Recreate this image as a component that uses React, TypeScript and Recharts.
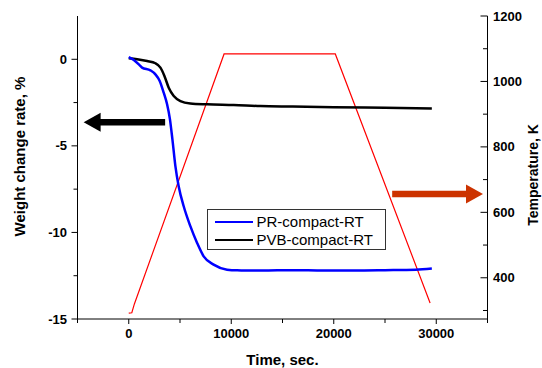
import React from 'react';
import { ComposedChart, Line, XAxis, YAxis, Legend, ReferenceLine } from 'recharts';

const FONT = 'Liberation Sans, Arial, Helvetica, sans-serif';

// PR-compact-RT weight change (%) vs time (s)
const prTime = [0, 490, 1070, 1300, 2115, 2600, 3020, 3410, 3740, 4020, 4260, 4550, 4870, 5360, 6010, 6670, 7310, 8280, 9590, 10570, 13000, 16000, 19000, 22000, 25000, 28000, 29570];
const prWeight = [0.12, -0.04, -0.35, -0.48, -0.64, -0.87, -1.25, -1.93, -2.6, -3.47, -4.63, -6.17, -7.33, -8.49, -9.64, -10.61, -11.38, -11.86, -12.15, -12.19, -12.2, -12.18, -12.2, -12.2, -12.18, -12.15, -12.08];

// PVB-compact-RT weight change (%) vs time (s)
const pvbTime = [0, 820, 1790, 2600, 3090, 3480, 3900, 4390, 5040, 6010, 7640, 10240, 12840, 16000, 20000, 25000, 29570];
const pvbWeight = [0.06, 0, -0.1, -0.23, -0.48, -0.96, -1.64, -2.12, -2.41, -2.55, -2.6, -2.64, -2.7, -2.73, -2.77, -2.8, -2.84];

// Temperature (K) vs time (s)
const tempTime = [0, 300, 550, 9300, 20150, 29400];
const tempK = [292, 293, 320, 1084, 1084, 323];

const seriesNames = ['PR-compact-RT', 'PVB-compact-RT'];
const seriesColors = ['#0000ff', '#000000'];

const xTicks = [-5000, 0, 5000, 10000, 15000, 20000, 25000, 30000, 35000];
const xLabelTicks = [0, 10000, 20000, 30000];
const leftTicks = [-15, -12.5, -10, -7.5, -5, -2.5, 0];
const leftLabelTicks = [-15, -10, -5, 0];
const rightTicks = [300, 400, 500, 600, 700, 800, 900, 1000, 1100, 1200];
const rightLabelTicks = [400, 600, 800, 1000, 1200];

const xTitle = 'Time, sec.';
const leftTitle = 'Weight change rate, %';
const rightTitle = 'Temperature, K';

// arrow annotations (data coordinates)
const weightArrow = [{ x: 3550, y: -3.64 }, { x: -4400, y: -3.64 }];
const tempArrow = [{ x: 25700, y: 656 }, { x: 34560, y: 656 }];

const prData = prTime.map((t, i) => ({ t, v: prWeight[i] }));
const pvbData = pvbTime.map((t, i) => ({ t, v: pvbWeight[i] }));
const tempData = tempTime.map((t, i) => ({ t, v: tempK[i] }));

const BottomTick = (props: any) => {
  const { x, y, payload } = props;
  const v = payload.value;
  const major = xLabelTicks.includes(v);
  return (
    <g>
      <line x1={x} x2={x} y1={y} y2={y + (major ? 5 : 4)} stroke="#000" strokeWidth={1} />
      {major && (
        <text x={x} y={y + 19} textAnchor="middle" fontSize={13} fontWeight="bold" fontFamily={FONT} fill="#000">
          {v}
        </text>
      )}
    </g>
  );
};

const TopTick = (props: any) => {
  const { x, y, payload } = props;
  const major = xLabelTicks.includes(payload.value);
  return <line x1={x} x2={x} y1={y} y2={y + (major ? 6 : 4)} stroke="#000" strokeWidth={1} />;
};

const LeftTick = (props: any) => {
  const { x, y, payload } = props;
  const v = payload.value;
  const major = leftLabelTicks.includes(v);
  return (
    <g>
      <line x1={x} x2={x - (major ? 6 : 4)} y1={y} y2={y} stroke="#000" strokeWidth={1} />
      {major && (
        <text x={x - 10.5} y={y + 4.6} textAnchor="end" fontSize={13} fontWeight="bold" fontFamily={FONT} fill="#000">
          {v}
        </text>
      )}
    </g>
  );
};

const RightTick = (props: any) => {
  const { x, y, payload } = props;
  const v = payload.value;
  const major = rightLabelTicks.includes(v);
  return (
    <g>
      <line x1={x} x2={x - (major ? 7 : 4.5)} y1={y} y2={y} stroke="#000" strokeWidth={1} />
      {major && (
        <text x={x + 5.5} y={y + 4.6} textAnchor="start" fontSize={13} fontWeight="bold" fontFamily={FONT} fill="#000">
          {v}
        </text>
      )}
    </g>
  );
};

const XTitle = (props: any) => {
  const vb = props.viewBox;
  return (
    <text x={vb.x + vb.width / 2} y={vb.y + 46} textAnchor="middle" fontSize={15} fontWeight="bold" fontFamily={FONT} fill="#000">
      {xTitle}
    </text>
  );
};

const LeftTitle = (props: any) => {
  const vb = props.viewBox;
  const cx = vb.x + 24.5;
  const cy = vb.y + vb.height / 2 - 11;
  return (
    <text x={0} y={0} transform={`translate(${cx},${cy}) rotate(-90)`} textAnchor="middle" fontSize={15} fontWeight="bold" fontFamily={FONT} fill="#000">
      {leftTitle}
    </text>
  );
};

const RightTitle = (props: any) => {
  const vb = props.viewBox;
  const cx = vb.x + 50.5;
  const cy = vb.y + vb.height / 2 + 7.5;
  return (
    <text x={0} y={0} transform={`translate(${cx},${cy}) rotate(-90)`} textAnchor="middle" fontSize={14} fontWeight="bold" fontFamily={FONT} fill="#000">
      {rightTitle}
    </text>
  );
};

const makeArrow = (color: string, shaft: number, headLen: number, headW: number) => (props: any) => {
  const { x1, y1, x2, y2 } = props;
  const dir = Math.sign(x2 - x1) || 1;
  const hx = x2 - dir * headLen;
  return (
    <g>
      <line x1={x1} y1={y1} x2={hx + dir * 1} y2={y2} stroke={color} strokeWidth={shaft} />
      <polygon points={`${x2},${y2} ${hx},${y2 - headW / 2} ${hx},${y2 + headW / 2}`} fill={color} />
    </g>
  );
};

const LegendBox = () => (
  <div
    style={{
      position: 'relative',
      width: '100%',
      height: '100%',
      boxSizing: 'border-box',
      border: '1px solid #333',
      background: '#fff',
      fontFamily: FONT,
      fontSize: 15,
      color: '#000',
    }}
  >
    {seriesNames.map((name, i) => (
      <div key={name} style={{ position: 'absolute', left: 0, top: 11.7 + 18.3 * i - 9, height: 18, width: '100%' }}>
        <div
          style={{
            position: 'absolute',
            left: 7.5,
            top: 8,
            width: 38,
            height: i === 0 ? 2.5 : 2,
            background: seriesColors[i],
          }}
        />
        <span style={{ position: 'absolute', left: 49, top: 0, lineHeight: '18px', whiteSpace: 'nowrap' }}>{name}</span>
      </div>
    ))}
  </div>
);

export default function App() {
  return (
    <div style={{ position: 'absolute', left: 0, top: 0, width: 542, height: 368, background: '#fff' }}>
      <ComposedChart width={542} height={368} margin={{ top: 16, right: 0, bottom: 0, left: 0 }}>
        <XAxis
          xAxisId="b"
          type="number"
          dataKey="t"
          domain={[-5000, 35000]}
          allowDataOverflow
          ticks={xTicks}
          interval={0}
          height={49}
          tickSize={0}
          tickMargin={0}
          tickLine={false}
          tick={<BottomTick />}
          axisLine={{ stroke: '#000', strokeWidth: 1 }}
          label={{ content: <XTitle /> } as any}
        />
        <XAxis
          xAxisId="t"
          orientation="top"
          type="number"
          dataKey="t"
          domain={[-5000, 35000]}
          allowDataOverflow
          ticks={xTicks}
          interval={0}
          height={0}
          tickSize={0}
          tickMargin={0}
          tickLine={false}
          tick={<TopTick />}
          axisLine={{ stroke: '#000', strokeWidth: 1 }}
        />
        <YAxis
          yAxisId="left"
          type="number"
          domain={[-15, 2.5]}
          allowDataOverflow
          ticks={leftTicks}
          interval={0}
          width={77.5}
          tickSize={0}
          tickMargin={0}
          tickLine={false}
          tick={<LeftTick />}
          axisLine={{ stroke: '#000', strokeWidth: 1 }}
          label={{ content: <LeftTitle /> } as any}
        />
        <YAxis
          yAxisId="right"
          orientation="right"
          type="number"
          domain={[274, 1200]}
          allowDataOverflow
          ticks={rightTicks}
          interval={0}
          width={54.5}
          tickSize={0}
          tickMargin={0}
          tickLine={false}
          tick={<RightTick />}
          axisLine={{ stroke: '#000', strokeWidth: 1 }}
          label={{ content: <RightTitle /> } as any}
        />
        <Line
          xAxisId="t"
          yAxisId="right"
          data={tempData}
          dataKey="v"
          type="linear"
          stroke="#ff0000"
          strokeWidth={1.2}
          dot={false}
          activeDot={false}
          legendType="none"
          isAnimationActive={false}
        />
        <Line
          xAxisId="b"
          yAxisId="left"
          data={pvbData}
          dataKey="v"
          name={seriesNames[1]}
          type="monotone"
          stroke={seriesColors[1]}
          strokeWidth={2.5}
          dot={false}
          activeDot={false}
          isAnimationActive={false}
        />
        <Line
          xAxisId="b"
          yAxisId="left"
          data={prData}
          dataKey="v"
          name={seriesNames[0]}
          type="monotone"
          stroke={seriesColors[0]}
          strokeWidth={2.5}
          dot={false}
          activeDot={false}
          isAnimationActive={false}
        />
        <ReferenceLine
          xAxisId="b"
          yAxisId="left"
          segment={weightArrow}
          shape={makeArrow('#000000', 6.5, 17, 19)}
        />
        <ReferenceLine
          xAxisId="b"
          yAxisId="right"
          segment={tempArrow}
          shape={makeArrow('#cc3300', 6.3, 17, 19)}
        />
        <Legend
          layout="vertical"
          align="center"
          verticalAlign="middle"
          wrapperStyle={{ position: 'absolute', left: 206.5, top: 209, width: 179.5, height: 40.5 }}
          content={() => <LegendBox />}
        />
      </ComposedChart>
    </div>
  );
}
